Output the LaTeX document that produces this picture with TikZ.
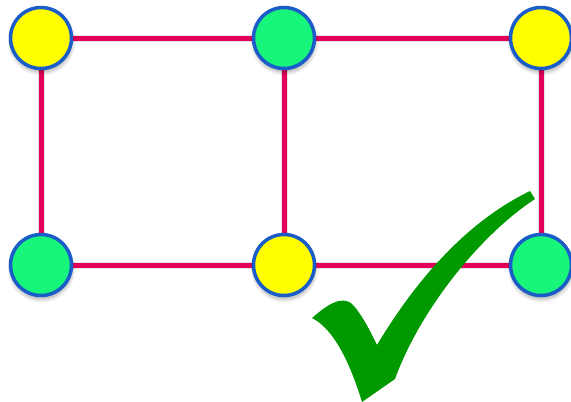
\documentclass[tikz,border=0pt]{standalone}
\usetikzlibrary{shadows.blur}
\definecolor{edgered}{HTML}{E2005A}
\definecolor{nodeyellow}{HTML}{FFFF00}
\definecolor{nodegreen}{HTML}{17F57A}
\definecolor{nodeblue}{HTML}{1A5CC8}
\definecolor{checkgreen}{HTML}{009900}
\tikzset{
  vtx/.style={circle, draw=nodeblue, line width=3.5pt, minimum size=61pt, inner sep=0pt,
    blur shadow={shadow xshift=0.5pt, shadow yshift=-3.5pt, shadow blur steps=10, shadow blur radius=4pt, shadow opacity=35}},
  yv/.style={vtx, fill=nodeyellow},
  gv/.style={vtx, fill=nodegreen},
  edge/.style={draw=edgered, line width=5pt},
  edgeshadow/.style={draw=black, opacity=0.10, line width=7pt},
}
\begin{document}
\begin{tikzpicture}[x=1pt,y=-1pt]
\useasboundingbox (0,0) rectangle (571,402);
\coordinate (c1) at (41,38);
\coordinate (c2) at (284,38);
\coordinate (c3) at (541,38);
\coordinate (c4) at (41,265);
\coordinate (c5) at (284,265);
\coordinate (c6) at (541,265);
% edge shadows
\begin{scope}[yshift=-3pt]
\draw[edgeshadow] (c1) -- (c3) (c4) -- (c6) (c1) -- (c4) (c2) -- (c5) (c3) -- (c6);
\end{scope}
% edges
\draw[edge] (c1) -- (c2) -- (c3);
\draw[edge] (c4) -- (c5) -- (c6);
\draw[edge] (c1) -- (c4);
\draw[edge] (c2) -- (c5);
\draw[edge] (c3) -- (c6);
% nodes
\node[yv] (n1) at (c1) {};
\node[gv] (n2) at (c2) {};
\node[yv] (n3) at (c3) {};
\node[gv] (n4) at (c4) {};
\node[yv] (n5) at (c5) {};
\node[gv] (n6) at (c6) {};
% check mark
\fill[checkgreen] (312,318) .. controls (327,305) and (340,296) .. (351,303)
  .. controls (359,310) and (370,330) .. (377,345)
  .. controls (410,290) and (460,225) .. (530,191)
  -- (535,199)
  .. controls (480,235) and (420,310) .. (395,379)
  -- (362,402)
  .. controls (347,353) and (330,327) .. (312,318) -- cycle;
\end{tikzpicture}
\end{document}
